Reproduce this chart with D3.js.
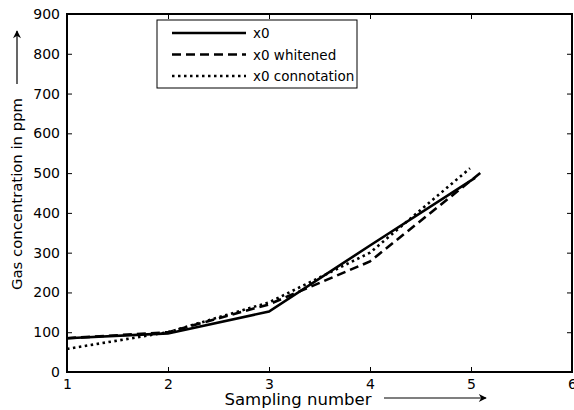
<!DOCTYPE html>
<html>
<head>
<meta charset="utf-8">
<script src="https://cdn.jsdelivr.net/npm/d3@7"></script>
<style>
  html, body { margin: 0; padding: 0; background: #fff; }
  svg { display: block; font-family: "DejaVu Sans", "Liberation Sans", Arial, sans-serif; }
</style>
</head>
<body>
<svg id="chart" width="574" height="410"></svg>
<script>
// Sampling positions and gas concentration (ppm) for each signal
const xSolid = [1, 2, 3, 4, 5.04];
const ySolid = [85, 97, 152, 318, 488];
const xWhitened = [1, 2, 3, 4, 5.1];
const yWhitened = [85, 100, 170, 278, 502];
const xConnotation = [1, 2, 3, 4, 4.99];
const yConnotation = [58, 100, 175, 300, 512];

const seriesNames = ["x0", "x0 whitened", "x0 connotation"];
const xTicks = [1, 2, 3, 4, 5, 6];
const yTicks = [0, 100, 200, 300, 400, 500, 600, 700, 800, 900];

const svg = d3.select("#chart");
const m = { left: 67, right: 572, top: 14, bottom: 372 };

const x = d3.scaleLinear().domain([1, 6]).range([m.left, m.right]);
const y = d3.scaleLinear().domain([0, 900]).range([m.bottom, m.top]);

// arrow head for the axis-label arrows
svg.append("defs").append("marker")
  .attr("id", "arrow").attr("viewBox", "0 0 10 10")
  .attr("refX", 9).attr("refY", 5)
  .attr("markerWidth", 12).attr("markerHeight", 8)
  .attr("markerUnits", "userSpaceOnUse")
  .attr("orient", "auto")
  .append("path").attr("d", "M0,0 L10,5 L0,10 L3,5 z").attr("fill", "#000");

// axes with inward ticks on all four sides
const tickLen = 5;
const gx = svg.append("g").attr("transform", `translate(0,${m.bottom})`)
  .call(d3.axisBottom(x).tickValues(xTicks).tickFormat(d3.format("d")).tickSizeInner(-tickLen).tickSizeOuter(0).tickPadding(7));
const gxTop = svg.append("g").attr("transform", `translate(0,${m.top})`)
  .call(d3.axisTop(x).tickValues(xTicks).tickFormat("").tickSizeInner(-tickLen).tickSizeOuter(0));
const gy = svg.append("g").attr("transform", `translate(${m.left},0)`)
  .call(d3.axisLeft(y).tickValues(yTicks).tickFormat(d3.format("d")).tickSizeInner(-tickLen).tickSizeOuter(0).tickPadding(7));
const gyRight = svg.append("g").attr("transform", `translate(${m.right},0)`)
  .call(d3.axisRight(y).tickValues(yTicks).tickFormat("").tickSizeInner(-tickLen).tickSizeOuter(0));

[gx, gxTop, gy, gyRight].forEach(g => {
  g.select(".domain").remove();
  g.selectAll("line").attr("stroke", "#000").attr("stroke-width", 1);
  g.selectAll("text").attr("fill", "#000").attr("font-size", 14)
    .attr("font-family", "DejaVu Sans, Liberation Sans, Arial, sans-serif");
});

// plot frame
svg.append("rect")
  .attr("x", m.left).attr("y", m.top)
  .attr("width", m.right - m.left).attr("height", m.bottom - m.top)
  .attr("fill", "none").attr("stroke", "#000").attr("stroke-width", 2);

// series lines
const line = d3.line().x(d => x(d[0])).y(d => y(d[1]));
const styles = [
  { dash: null },
  { dash: "9,5" },
  { dash: "2.5,3.5" }
];
const series = [
  d3.zip(xSolid, ySolid),
  d3.zip(xWhitened, yWhitened),
  d3.zip(xConnotation, yConnotation)
];
series.forEach((pts, i) => {
  svg.append("path")
    .datum(pts)
    .attr("d", line)
    .attr("fill", "none")
    .attr("stroke", "#000")
    .attr("stroke-width", 2.6)
    .attr("stroke-dasharray", styles[i].dash);
});

// legend
const lg = svg.append("g").attr("transform", "translate(157,20)");
lg.append("rect").attr("width", 200).attr("height", 68)
  .attr("fill", "#fff").attr("stroke", "#000").attr("stroke-width", 1);
seriesNames.forEach((name, i) => {
  const yy = 13 + i * 21.5;
  lg.append("line").attr("x1", 15).attr("x2", 89).attr("y1", yy).attr("y2", yy)
    .attr("stroke", "#000").attr("stroke-width", 2.6)
    .attr("stroke-dasharray", styles[i].dash);
  lg.append("text").attr("x", 96).attr("y", yy + 5)
    .attr("font-size", 13.5).text(name);
});

// axis labels with arrows
svg.append("text")
  .attr("transform", "translate(22,194) rotate(-90)")
  .attr("text-anchor", "middle").attr("font-size", 14.5)
  .attr("textLength", 192).attr("lengthAdjust", "spacingAndGlyphs")
  .text("Gas concentration in ppm");
svg.append("line")
  .attr("x1", 17).attr("x2", 17).attr("y1", 84).attr("y2", 31)
  .attr("stroke", "#000").attr("stroke-width", 1.2)
  .attr("marker-end", "url(#arrow)");

svg.append("text")
  .attr("x", 298).attr("y", 405)
  .attr("text-anchor", "middle").attr("font-size", 16)
  .attr("textLength", 147).attr("lengthAdjust", "spacingAndGlyphs")
  .text("Sampling number");
svg.append("line")
  .attr("x1", 384).attr("x2", 486).attr("y1", 398).attr("y2", 398)
  .attr("stroke", "#000").attr("stroke-width", 1.2)
  .attr("marker-end", "url(#arrow)");
</script>
</body>
</html>
